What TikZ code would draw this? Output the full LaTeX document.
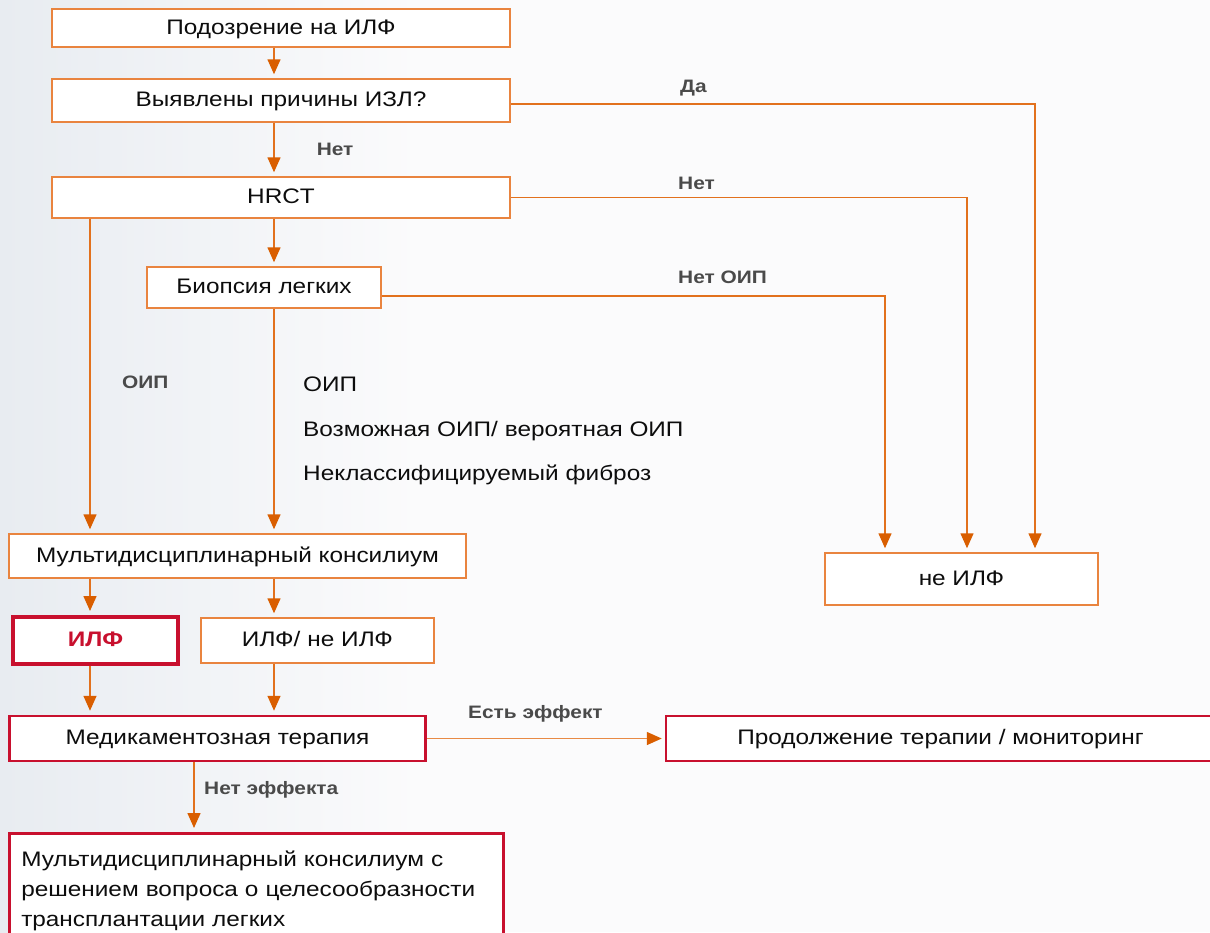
\documentclass[tikz,border=0pt]{standalone}
\usepackage{fontspec}
\setmainfont{Liberation Sans}[FakeStretch=1.16]
\usetikzlibrary{arrows.meta}
\definecolor{boxor}{HTML}{E9843F}
\definecolor{lineor}{HTML}{E2711D}
\definecolor{lineor2}{HTML}{E88A45}
\definecolor{heador}{HTML}{D95E00}
\definecolor{redc}{HTML}{C8102E}
\definecolor{lblgray}{HTML}{4A4A4A}
\definecolor{txt}{HTML}{0D0D0D}
\definecolor{bgleft}{HTML}{E8ECF1}
\definecolor{bgmain}{HTML}{FBFBFC}
\begin{document}
\begin{tikzpicture}[x=1pt,y=-1pt,
  box/.style={draw=boxor, line width=1.5pt, fill=white, inner sep=0pt,
    font=\fontsize{21}{25}\selectfont, text=txt, text height=15pt, text depth=3pt},
  redbox/.style={box, draw=redc, line width=2.5pt},
  conn/.style={draw=lineor, line width=1.5pt,
    -{Triangle[length=15pt,width=13pt,color=heador]}, shorten >=4pt},
  lbl/.style={font=\bfseries\fontsize{18}{22}\selectfont, text=lblgray,
    inner sep=0pt, anchor=west},
  plaintext/.style={font=\fontsize{21}{25}\selectfont, text=txt, inner sep=0pt}]
\useasboundingbox (0,0) rectangle (1210,932);
\clip (0,0) rectangle (1210,932);
\fill[bgmain] (0,0) rectangle (1210,932);
\shade[left color=bgleft, right color=bgmain] (0,0) rectangle (420,932);

% columns
\coordinate (cA) at (274,0);
\coordinate (cB) at (90,0);
\coordinate (cM) at (194,0);
\coordinate (cDa) at (1035,0);
\coordinate (cNet) at (967,0);
\coordinate (cNoip) at (885,0);

% nodes
\node[box, minimum width=458pt, minimum height=38pt] (n1) at (281,28) {Подозрение на ИЛФ};
\node[box, minimum width=458pt, minimum height=43pt] (n2) at (281,100.5) {Выявлены причины ИЗЛ?};
\node[box, minimum width=458pt, minimum height=41pt] (n3) at (281,197.5) {HRCT};
\node[box, minimum width=234pt, minimum height=41pt] (bio) at (264,287.5) {Биопсия легких};
\node[box, minimum width=457pt, minimum height=44pt] (multi) at (237.5,556) {Мультидисциплинарный консилиум};
\node[redbox, line width=4pt, minimum width=165pt, minimum height=47pt,
  font=\bfseries\fontsize{21}{25}\selectfont, text=redc] (ilf) at (95.5,640.5) {ИЛФ};
\node[box, minimum width=233pt, minimum height=45pt] (ilfne) at (317.5,640.5) {ИЛФ/\,\,не ИЛФ};
\node[redbox, minimum width=416pt, minimum height=45pt] (med) at (217.5,738.5) {Медикаментозная терапия};
\node[redbox, minimum width=549pt, minimum height=45pt] (cont) at (940.5,738.5) {Продолжение терапии / мониторинг};
\node[box, minimum width=273pt, minimum height=52pt] (neilf) at (961.5,579) {не ИЛФ};
\node[redbox, anchor=north west, minimum width=494pt, minimum height=115pt,
  text width=470pt, align=left, inner xsep=12pt, inner ysep=14pt,
  text height=, text depth=,
  font=\fontsize{21}{30}\selectfont] (final) at (8,832)
  {Мультидисциплинарный консилиум с\\решением вопроса о целесообразности\\трансплантации легких};

\node[plaintext, anchor=west, align=left, font=\fontsize{21}{44.5}\selectfont] (list) at (303,431)
  {ОИП\\Возможная ОИП/\,\,вероятная ОИП\\Неклассифицируемый фиброз};

% connectors
\draw[conn] (n1.south -| cA) -- (n2.north -| cA);
\draw[conn] (n2.south -| cA) -- node[lbl, pos=0.5, xshift=42pt] (lnet1) {Нет} (n3.north -| cA);
\draw[conn] (n3.south -| cA) -- (bio.north -| cA);
\draw[conn] (n3.south -| cB) -- (multi.north -| cB);
\draw[conn] (bio.south -| cA) -- (multi.north -| cA);
\draw[conn] (multi.south -| cB) -- (ilf.north -| cB);
\draw[conn] (multi.south -| cA) -- (ilfne.north -| cA);
\draw[conn] (ilf.south -| cB) -- (med.north -| cB);
\draw[conn] (ilfne.south -| cA) -- (med.north -| cA);
\draw[conn] (med.south -| cM) -- (final.north -| cM);
\draw[conn, draw=lineor2, shorten >=3pt] (med.east) -- (cont.west);
\draw[conn] ([yshift=-3.5pt]n2.east) -| (neilf.north -| cDa);
\draw[conn] (n3.east) -| (neilf.north -| cNet);
\draw[conn] ([yshift=-8.5pt]bio.east) -| (neilf.north -| cNoip);

% labels
\node[lbl] (lda) at (680,88) {Да};
\node[lbl] (lnet2) at (678,183) {Нет};
\node[lbl] (lnoip) at (678,277) {Нет ОИП};
\node[lbl] (loip) at (122,382) {ОИП};
\node[lbl] (lyes) at (468,714) {Есть эффект};
\node[lbl] (lno) at (204,790) {Нет эффекта};
\end{tikzpicture}
\end{document}
